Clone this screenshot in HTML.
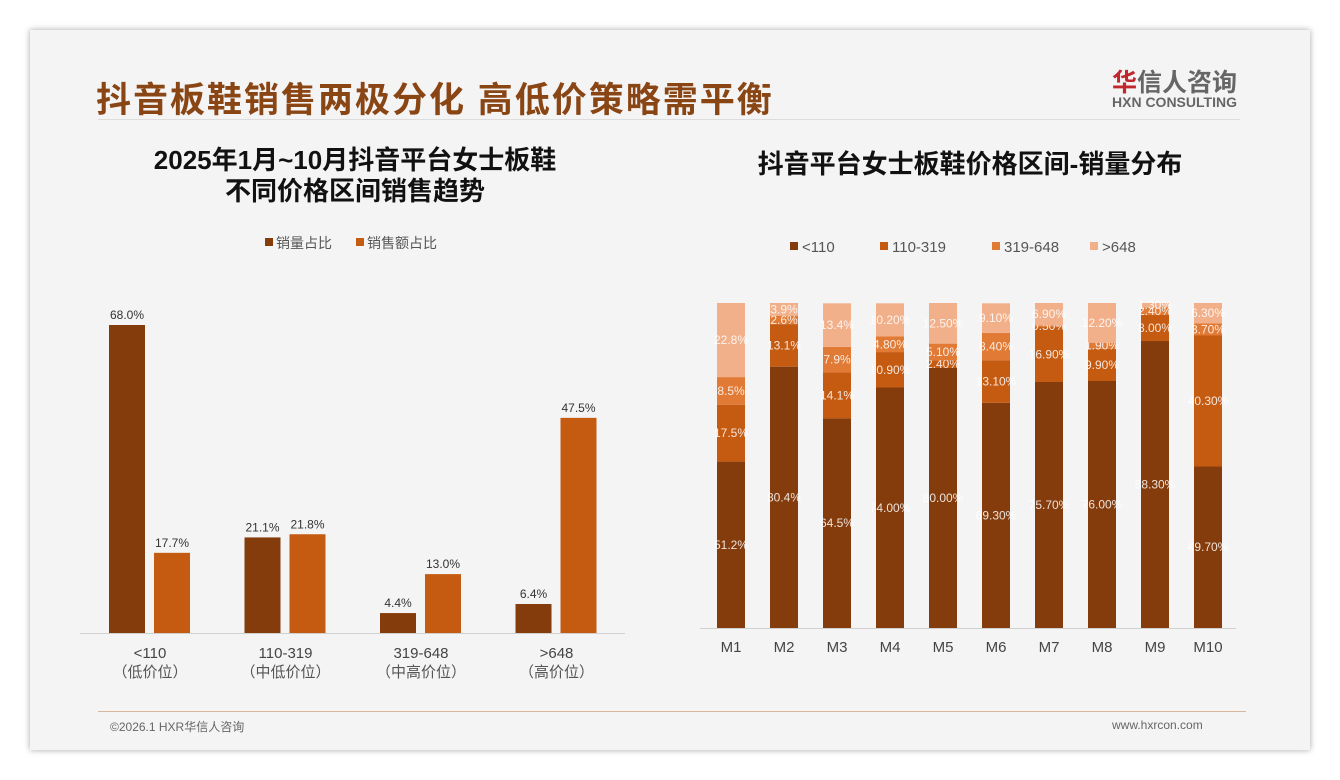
<!DOCTYPE html>
<html><head><meta charset="utf-8"><style>
body{margin:0;width:1340px;height:780px;background:#fff;font-family:"Liberation Sans","Noto Sans CJK SC",sans-serif;overflow:hidden}
#card{position:absolute;left:30px;top:30px;width:1280px;height:720px;background:#f4f4f4;box-shadow:0 0 6px rgba(0,0,0,.35)}
.t{position:absolute;white-space:nowrap}
</style></head><body>
<div id="card"></div>
<div class="t" style="left:96px;top:72px;font-size:35px;font-weight:bold;color:#8a4515;letter-spacing:2px">抖音板鞋销售两极分化 高低价策略需平衡</div>
<div style="position:absolute;left:98px;top:119px;width:1142px;height:1px;background:#ddd"></div>
<div class="t" style="left:1112px;top:63px;font-size:25px;font-weight:bold;color:#666"><span style="color:#c0282d">华</span>信人咨询</div>
<div class="t" style="left:1112px;top:94px;font-size:14px;font-weight:bold;color:#666">HXN CONSULTING</div>
<div class="t" style="left:100px;width:510px;text-align:center;top:145px;font-size:26px;font-weight:bold;color:#111;line-height:31px">2025年1月~10月抖音平台女士板鞋<br>不同价格区间销售趋势</div>
<div class="t" style="left:700px;width:540px;text-align:center;top:144px;font-size:26px;font-weight:bold;color:#111">抖音平台女士板鞋价格区间-销量分布</div>
<div style="position:absolute;left:98px;top:711px;width:1148px;height:1px;background:#d9b59a"></div>
<div class="t" style="left:110px;top:718px;font-size:12px;color:#666">©2026.1 HXR华信人咨询</div>
<div class="t" style="left:1112px;top:718px;font-size:12px;color:#666">www.hxrcon.com</div>
<svg id="svg" width="1340" height="780" style="position:absolute;left:0;top:0"></svg>
<script>
const leftCats=["<110","110-319","319-648",">648"];
const leftSub=["（低价位）","（中低价位）","（中高价位）","（高价位）"];
const volShare=[68.0,21.1,4.4,6.4];
const salesShare=[17.7,21.8,13.0,47.5];
const months=["M1","M2","M3","M4","M5","M6","M7","M8","M9","M10"];
const s1=[51.2,80.4,64.5,74.0,80.0,69.3,75.7,76.0,88.3,49.7];
const s2=[17.5,13.1,14.1,10.9,2.4,13.1,16.9,9.9,8.0,40.3];
const s3=[8.5,2.6,7.9,4.8,5.1,8.4,0.5,1.9,2.4,3.7];
const s4=[22.8,3.9,13.4,10.2,12.5,9.1,6.9,12.2,1.3,6.3];
const s1Labels=["51.2%","80.4%","64.5%","74.00%","80.00%","69.30%","75.70%","76.00%","88.30%","49.70%"];
const s2Labels=["17.5%","13.1%","14.1%","10.90%","2.40%","13.10%","16.90%","9.90%","8.00%","40.30%"];
const s3Labels=["8.5%","2.6%","7.9%","4.80%","5.10%","8.40%","0.50%","1.90%","2.40%","3.70%"];
const s4Labels=["22.8%","3.9%","13.4%","10.20%","12.50%","9.10%","6.90%","12.20%","1.30%","6.30%"];
const stackNames=["<110","110-319","319-648",">648"];
const C1="#843c0c",C2="#c55a11",C3="#e07a35",C4="#f2b08a";
const svg=document.getElementById('svg');const NS="http://www.w3.org/2000/svg";
function mk(tag,attrs,parent){const e=document.createElementNS(NS,tag);for(const k in attrs)e.setAttribute(k,attrs[k]);(parent||svg).appendChild(e);return e;}
function txt(x,y,s,attrs){const e=mk('text',Object.assign({x:x,y:y,'text-anchor':'middle','font-family':'Liberation Sans, Noto Sans CJK SC, sans-serif'},attrs));e.textContent=s;return e;}
// left chart
const lBase=633,lScale=308/68;
const lx=i=>150+i*135.5;const ly=v=>lBase-v*lScale;
let ax=mk('line',{x1:80,x2:625,y1:lBase+0.5,y2:lBase+0.5,stroke:'#d0d0d0'});

leftCats.forEach((c,i)=>{
 const cx=lx(i);
 let b=mk('rect',{x:cx-41,y:ly(volShare[i]),width:36,height:lBase-ly(volShare[i]),fill:C1});
 
 let b2=mk('rect',{x:cx+4,y:ly(salesShare[i]),width:36,height:lBase-ly(salesShare[i]),fill:C2});
 
 let t=txt(cx-23,ly(volShare[i])-6,volShare[i].toFixed(1)+'%',{'font-size':12,fill:'#333'});
 
 t=txt(cx+22,ly(salesShare[i])-6,salesShare[i].toFixed(1)+'%',{'font-size':12,fill:'#333'});
 
 t=txt(cx,658,c,{'font-size':15,fill:'#444'});
 
 t=txt(cx,677,leftSub[i],{'font-size':15,fill:'#555'});
 
});
[[265,C1,'销量占比'],[356,C2,'销售额占比']].forEach(l=>{
 let r=mk('rect',{x:l[0],y:238,width:8,height:8,fill:l[1]});
 
 let t=txt(l[0]+11,248,l[2],{'font-size':14,fill:'#555','text-anchor':'start'});
 
});
// right chart
const rBase=628,rH=325;const rx=i=>731+i*53;const ry=v=>v*rH/100;
ax=mk('line',{x1:700,x2:1236,y1:rBase+0.5,y2:rBase+0.5,stroke:'#d0d0d0'});

const series=[s1,s2,s3,s4],labs=[s1Labels,s2Labels,s3Labels,s4Labels],cols=[C1,C2,C3,C4];
months.forEach((m,i)=>{
 let y=rBase;
 series.forEach((s,k)=>{
  const h=ry(s[i]);y-=h;
  let r=mk('rect',{x:rx(i)-14,y:y,width:28,height:h,fill:cols[k]});
  
  let t=txt(rx(i),y+h/2+4,labs[k][i],{'font-size':12,fill:'#fff','fill-opacity':0.85});
  
 });
 let t=txt(rx(i),652,m,{'font-size':15,fill:'#444'});
 
});
[[790,C1],[880,C2],[992,C3],[1090,C4]].forEach((l,k)=>{
 let r=mk('rect',{x:l[0],y:242,width:8,height:8,fill:l[1]});
 
 let t=txt(l[0]+12,252,stackNames[k],{'font-size':15,fill:'#555','text-anchor':'start'});
 
});
</script>
</body></html>
